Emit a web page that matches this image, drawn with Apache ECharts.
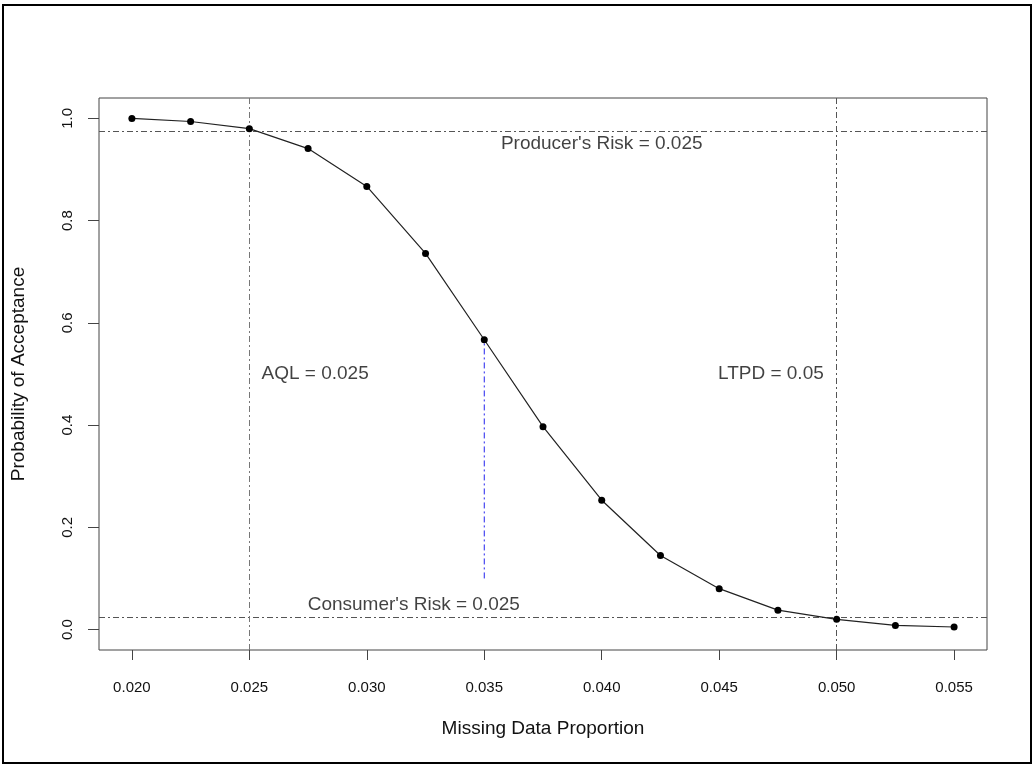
<!DOCTYPE html>
<html>
<head>
<meta charset="utf-8">
<script src="https://cdn.jsdelivr.net/npm/echarts@6/dist/echarts.min.js"></script>
<style>
  html, body { margin: 0; padding: 0; background: #fff; }
  #chart { width: 1034px; height: 765px; }
</style>
</head>
<body>
<div id="chart"></div>
<script>
// missing data proportion (x) and probability of acceptance (y)
var proportions = [0.020, 0.0225, 0.025, 0.0275, 0.030, 0.0325, 0.035, 0.0375,
                   0.040, 0.0425, 0.045, 0.0475, 0.050, 0.0525, 0.055];
var acceptance = [1.000, 0.994, 0.980, 0.941, 0.867, 0.736, 0.567, 0.397,
                  0.253, 0.145, 0.080, 0.038, 0.020, 0.008, 0.005];

var xTicks = [0.020, 0.025, 0.030, 0.035, 0.040, 0.045, 0.050, 0.055];
var yTicks = [0.0, 0.2, 0.4, 0.6, 0.8, 1.0];

var producerRisk = 0.025;
var consumerRisk = 0.025;
var aql = 0.025;
var ltpd = 0.05;

// blue segment at p = 0.035
var markerX = [0.035, 0.035];
var markerY = [0.1, 0.567];

// annotation texts, placed in data coordinates
var noteText = ["Producer's Risk = 0.025", "AQL = 0.025", "LTPD = 0.05", "Consumer's Risk = 0.025"];
var noteX = [0.0400, 0.0278, 0.0472, 0.0320];
var noteY = [0.950, 0.500, 0.500, 0.049];

var FONT = '"Liberation Sans", Arial, Helvetica, sans-serif';
var DOTDASH = [6, 3, 2, 3];

var chart = echarts.init(document.getElementById('chart'), null, { renderer: 'canvas' });

var option = {
  backgroundColor: '#ffffff',
  animation: false,
  textStyle: { fontFamily: FONT },
  graphic: [{
    type: 'rect',
    shape: { x: 3, y: 5, width: 1028, height: 758 },
    style: { fill: 'none', stroke: '#000', lineWidth: 2 },
    z: 100
  }],
  grid: {
    left: 99, right: 47, top: 98, bottom: 115,
    show: true,
    borderColor: '#444',
    borderWidth: 1,
    backgroundColor: 'transparent'
  },
  xAxis: {
    type: 'value',
    min: 0.0186, max: 0.0564,
    name: 'Missing Data Proportion',
    nameLocation: 'middle',
    nameGap: 69,
    nameTextStyle: { fontSize: 19, color: '#111', fontFamily: FONT },
    axisLine: { show: false, onZero: false },
    splitLine: { show: false },
    axisTick: {
      show: true, inside: false, length: 10,
      customValues: xTicks,
      lineStyle: { color: '#444', width: 1 }
    },
    axisLabel: {
      show: true, margin: 30, fontSize: 15, color: '#111', fontFamily: FONT,
      customValues: xTicks,
      formatter: function (v) { return v.toFixed(3); }
    }
  },
  yAxis: {
    type: 'value',
    min: -0.04, max: 1.04,
    name: 'Probability of Acceptance',
    nameLocation: 'middle',
    nameGap: 71,
    nameRotate: 90,
    nameTextStyle: { fontSize: 19, color: '#111', fontFamily: FONT },
    axisLine: { show: false, onZero: false },
    splitLine: { show: false },
    axisTick: {
      show: true, inside: false, length: 11,
      customValues: yTicks,
      lineStyle: { color: '#444', width: 1 }
    },
    axisLabel: {
      show: true, margin: 24, rotate: 90, fontSize: 15, color: '#111', fontFamily: FONT,
      customValues: yTicks,
      formatter: function (v) { return v.toFixed(1); }
    }
  },
  series: [
    {
      name: 'OC curve',
      type: 'line',
      data: proportions.map(function (p, i) { return [p, acceptance[i]]; }),
      symbol: 'circle',
      symbolSize: 7,
      itemStyle: { color: '#000' },
      lineStyle: { color: '#222', width: 1.2 },
      z: 5,
      markLine: {
        silent: true,
        precision: 4,
        symbol: ['none', 'none'],
        label: { show: false },
        animation: false,
        data: [
          { yAxis: 1 - producerRisk, lineStyle: { color: '#555', type: DOTDASH, width: 1 } },
          { yAxis: consumerRisk, lineStyle: { color: '#555', type: DOTDASH, width: 1 } },
          { xAxis: aql, lineStyle: { color: '#777', type: DOTDASH, width: 1 } },
          { xAxis: ltpd, lineStyle: { color: '#555', type: DOTDASH, width: 1 } }
        ]
      }
    },
    {
      name: 'marker',
      type: 'line',
      data: markerX.map(function (x, i) { return [x, markerY[i]]; }),
      symbol: 'none',
      lineStyle: { color: '#2222ee', width: 1, type: DOTDASH },
      z: 4
    },
    {
      name: 'notes',
      type: 'scatter',
      symbolSize: 0,
      silent: true,
      data: noteText.map(function (t, i) { return { name: t, value: [noteX[i], noteY[i]] }; }),
      label: {
        show: true,
        position: 'inside',
        formatter: '{b}',
        fontSize: 19,
        color: '#111',
        fontFamily: FONT
      },
      z: 6
    }
  ]
};

chart.setOption(option);
</script>
</body>
</html>
